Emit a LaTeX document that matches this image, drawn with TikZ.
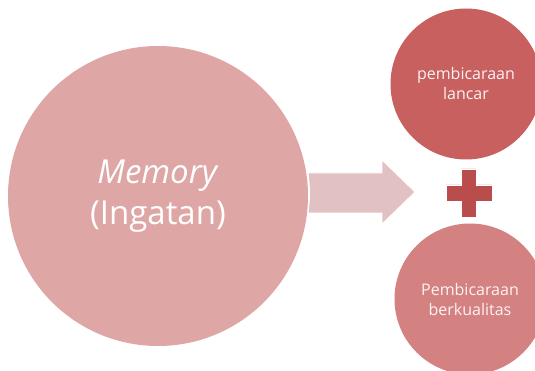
\documentclass[tikz,border=0pt]{standalone}
\usepackage{fontspec}
\setmainfont{Open Sans}
\definecolor{bigc}{HTML}{DFA6A6}
\definecolor{arrowc}{HTML}{E2C1C2}
\definecolor{topc}{HTML}{C7605F}
\definecolor{botc}{HTML}{D48181}
\definecolor{plusc}{HTML}{B84D4B}
\definecolor{txtc}{HTML}{FDF2F2}
\tikzset{
  bubble/.style={circle, inner sep=0pt, align=center, text=txtc},
  smalltext/.style={font=\fontsize{16}{20}\selectfont},
}
\begin{document}
\begin{tikzpicture}[x=1pt,y=-1pt]
\clip (0,0) rectangle (535,371);
\fill[white] (0,0) rectangle (535,371);
% big circle
\node[bubble, fill=bigc, minimum size=300pt, text=white, font=\fontsize{33}{41}\selectfont] (mem) at (158,196) {\textit{Memory}\\(Ingatan)};
% arrow
\draw[fill=arrowc, draw=white, line width=0.8pt] (308,173) .. controls (310,186) and (310,200) .. (308,213) -- (382,213) -- (382,224) -- (415,192) -- (382,160) -- (382,173) -- cycle;
% top circle
\node[bubble, fill=topc, minimum size=151pt, smalltext] (lancar) at (466,84) {pembicaraan\\lancar};
% bottom circle
\node[bubble, fill=botc, minimum size=151pt, smalltext] (kual) at (470,299) {Pembicaraan\\berkualitas};
% plus
\node[inner sep=0pt, minimum size=0pt] (plus) at (469,193) {};
\fill[plusc, draw=white, line width=0.5pt] (461,169) -- (476,169) -- (476,185) -- (492,185) -- (492,201) -- (476,201) -- (476,217) -- (461,217) -- (461,201) -- (446,201) -- (446,185) -- (461,185) -- cycle;
\end{tikzpicture}
\end{document}
